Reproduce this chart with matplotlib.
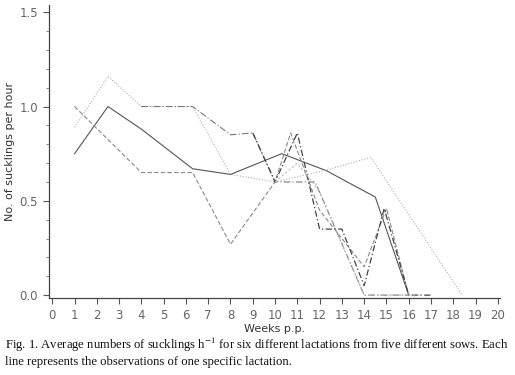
import matplotlib
matplotlib.use("Agg")
import matplotlib.pyplot as plt
from matplotlib.ticker import MultipleLocator

plt.rcParams["mathtext.fontset"] = "stix"

# six lactations, weeks post partum vs sucklings per hour
weeks_a = [1, 2.5, 4, 6.3, 8, 10.3, 12.3, 14.5, 16]
vals_a = [0.75, 1.0, 0.88, 0.67, 0.64, 0.75, 0.66, 0.52, 0.0]

weeks_b = [1, 2.5, 4, 6.3, 8, 10, 12.2, 14.3, 18.4]
vals_b = [0.89, 1.16, 1.0, 1.0, 0.64, 0.60, 0.66, 0.73, 0.0]

weeks_c = [4, 6.3, 8, 9, 10, 11.3, 11.8, 14, 16]
vals_c = [1.0, 1.0, 0.85, 0.86, 0.60, 0.60, 0.60, 0.0, 0.0]

weeks_d = [1, 4, 6.3, 8, 10, 10.7, 12, 14, 15, 16]
vals_d = [1.0, 0.65, 0.65, 0.27, 0.60, 0.86, 0.45, 0.15, 0.46, 0.0]

weeks_e = [9, 10, 11, 12, 13, 14, 14.9, 16, 17]
vals_e = [0.86, 0.60, 0.86, 0.35, 0.35, 0.05, 0.46, 0.0, 0.0]

weeks_f = [10, 11, 12, 14, 16.5]
vals_f = [0.60, 0.70, 0.55, 0.0, 0.0]

x_ticks = list(range(0, 21))
y_ticks = [0.0, 0.5, 1.0, 1.5]

fig = plt.figure(figsize=(5.15, 3.75), dpi=100)
ax = fig.add_axes([0.095, 0.205, 0.876, 0.781])

ax.plot(weeks_a, vals_a, color="#555555", linewidth=0.8, linestyle="-")
ax.plot(weeks_b, vals_b, color="#b0b0b0", linewidth=0.8, linestyle=(0, (1, 1.5)))
ax.plot(weeks_c, vals_c, color="#7a7a7a", linewidth=0.8, linestyle=(0, (6, 2, 1, 2)))
ax.plot(weeks_d, vals_d, color="#8a8a8a", linewidth=0.8, linestyle=(0, (4, 2)))
ax.plot(weeks_e, vals_e, color="#444444", linewidth=0.9, linestyle=(0, (5, 2, 1, 2)))
ax.plot(weeks_f, vals_f, color="#bbbbbb", linewidth=0.8, linestyle=(0, (2, 2)))

ax.set_xlim(-0.15, 20.1)
ax.set_ylim(-0.016, 1.537)
ax.set_xticks(x_ticks)
ax.set_yticks(y_ticks)
ax.set_yticklabels(["0.0", "0.5", "1.0", "1.5"])
ax.yaxis.set_minor_locator(MultipleLocator(0.1))

for side in ["top", "right"]:
    ax.spines[side].set_visible(False)
for side in ["left", "bottom"]:
    ax.spines[side].set_color("#444444")
    ax.spines[side].set_linewidth(0.9)

ax.tick_params(axis="both", which="major", direction="out", length=4,
               width=0.8, color="#555555", labelcolor="#666666", labelsize=8.5)
ax.tick_params(axis="y", which="minor", direction="out", length=2,
               width=0.6, color="#777777")
ax.tick_params(axis="y", pad=4)

ax.set_ylabel("No. of sucklings per hour", fontsize=8, color="#333333", labelpad=3)
ax.set_xlabel("Weeks p.p.", fontsize=8, color="#333333", labelpad=2)

fig.text(0.01, 0.08, "Fig. 1. Average numbers of sucklings h$^{-1}$ for six different lactations from five different sows. Each",
         family="Liberation Serif", fontsize=9.1, color="#111111", va="center")
fig.text(0.01, 0.035, "line represents the observations of one specific lactation.",
         family="Liberation Serif", fontsize=9.1, color="#111111", va="center")

fig.savefig("out.png", dpi=100, facecolor="white")
